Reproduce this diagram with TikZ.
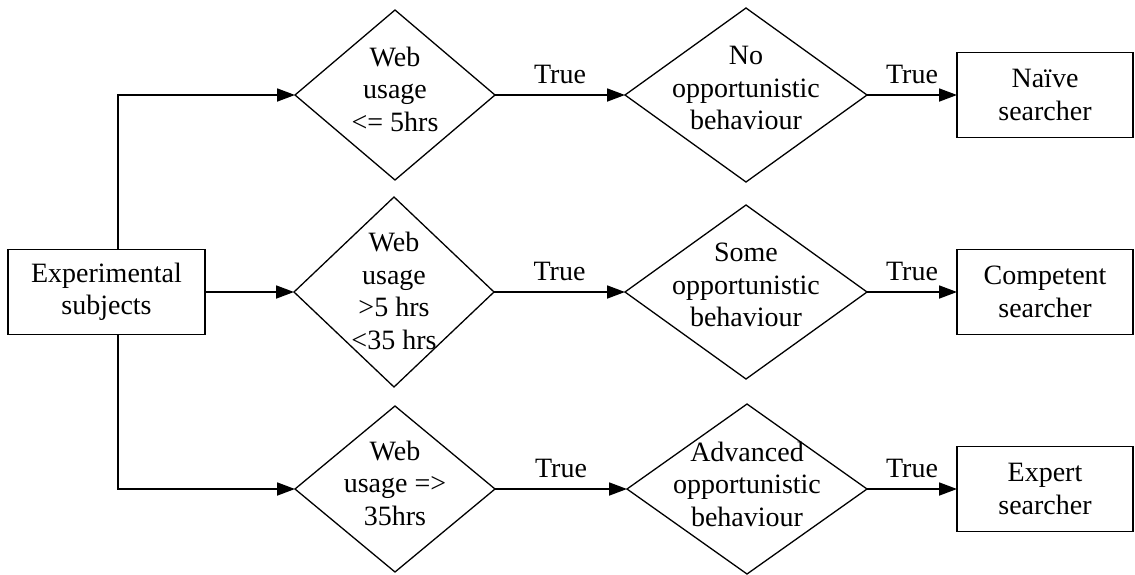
\documentclass[tikz,border=0pt]{standalone}
\usepackage{fontspec}
\setmainfont{Liberation Serif}
\usetikzlibrary{shapes.geometric,arrows.meta}
\begin{document}
\begin{tikzpicture}[x=1pt,y=-1pt,
  every node/.style={font=\fontsize{28}{32.5}\selectfont},
  boxnode/.style={draw,line width=1.8pt,rectangle,inner sep=0pt,outer sep=0pt,minimum width=176pt,minimum height=85pt,align=center},
  dia/.style={draw,line width=1.3pt,diamond,inner sep=0pt,outer sep=0pt},
  txt/.style={align=center,inner sep=0pt},
  conn/.style={line width=1.8pt,-{Triangle[length=18pt,width=13pt]}},
  truelbl/.style={above,inner sep=0pt,yshift=10pt}
]
\useasboundingbox[fill=white] (0,0) rectangle (1135,574);

% start box
\node[boxnode,minimum width=197pt] (exp) at (106.5,292) {Experimental\\subjects};
\coordinate (c) at (118,0);

% first column diamonds
\node[dia,minimum width=200pt,minimum height=170pt,label={[txt,yshift=6pt]center:{Web\\usage\\<= 5hrs}}] (d1) at (395,95) {};
\node[dia,minimum width=200pt,minimum height=190pt,label={[txt,yshift=1pt]center:{Web\\usage\\>5 hrs\\<35 hrs}}] (d2) at (394,292) {};
\node[dia,minimum width=200pt,minimum height=166pt,label={[txt,yshift=6pt]center:{Web\\usage =>\\35hrs}}] (d3) at (395,489) {};

% second column diamonds
\node[dia,minimum width=242pt,minimum height=174pt,label={[txt,yshift=7pt]center:{No\\opportunistic\\behaviour}}] (m1) at (746,95) {};
\node[dia,minimum width=242pt,minimum height=174pt,label={[txt,yshift=7pt]center:{Some\\opportunistic\\behaviour}}] (m2) at (746,292) {};
\node[dia,minimum width=240pt,minimum height=170pt,label={[txt,yshift=5pt]center:{Advanced\\opportunistic\\behaviour}}] (m3) at (747,489) {};

% result boxes
\node[boxnode] (b1) at (1045,95) {Naïve\\searcher};
\node[boxnode] (b2) at (1045,292) {Competent\\searcher};
\node[boxnode] (b3) at (1045,489) {Expert\\searcher};

% connectors from start
\draw[conn] (exp.north -| c) |- (d1.west);
\draw[conn] (exp.east) -- (exp.east -| d2.west);
\draw[conn] (exp.south -| c) |- (d3.west);

% column 1 -> column 2
\draw[conn] (d1.east) -- node[truelbl] (t1) {True} (m1.west);
\draw[conn] (d2.east) -- node[truelbl] (t2) {True} (m2.west);
\draw[conn] (d3.east) -- node[truelbl] (t3) {True} (m3.west);

% column 2 -> boxes
\draw[conn] (m1.east) -- node[truelbl] (t4) {True} (b1.west);
\draw[conn] (m2.east) -- node[truelbl] (t5) {True} (b2.west);
\draw[conn] (m3.east) -- node[truelbl] (t6) {True} (b3.west);
\end{tikzpicture}
\end{document}
